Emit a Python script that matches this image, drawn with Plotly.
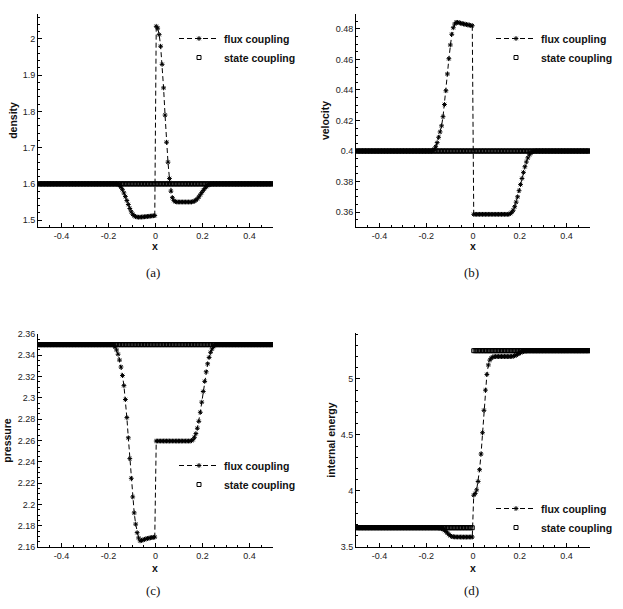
import plotly.graph_objects as go

# ---------------- data ----------------
# cell-centred mesh on [-0.5, 0.5] (160 cells)
x_cells = [round(-0.5 + 0.00625 * (k + 0.5), 6) for k in range(160)]

# density, flux coupling
rho_drop = [1.6, 1.599, 1.596, 1.591, 1.584, 1.575, 1.565, 1.554, 1.543, 1.532,
            1.523, 1.516, 1.512, 1.5095, 1.5085, 1.508]
rho_low = [1.5082, 1.5085, 1.5088, 1.5092, 1.5096, 1.51, 1.5105, 1.511, 1.5115,
           1.512, 1.5125]
rho_fan = [2.035, 2.03, 2.012, 1.98, 1.93, 1.865, 1.79, 1.715, 1.66, 1.615,
           1.58, 1.562, 1.554, 1.551]
rho_rise = [1.551, 1.5525, 1.555, 1.559, 1.564, 1.57, 1.576, 1.582, 1.5875,
            1.592, 1.5955, 1.598, 1.5993]
rho_flux = [1.6] * 53 + rho_drop + rho_low + rho_fan + [1.55] * 11 + rho_rise + [1.6] * 42
rho_state = [1.6] * 160

# velocity, flux coupling
u_rise_left = [0.4004, 0.4012, 0.4028, 0.4055, 0.409, 0.4125, 0.4165, 0.4225,
               0.4305, 0.4395, 0.4505, 0.4605, 0.4695, 0.4765, 0.4808, 0.4832,
               0.4843, 0.4843]
u_high = [0.4841, 0.4838, 0.4835, 0.4833, 0.4831, 0.4829, 0.4827, 0.4825,
          0.4823, 0.4821]
u_rise_right = [0.359, 0.3598, 0.3612, 0.3635, 0.3665, 0.37, 0.374, 0.378,
                0.382, 0.386, 0.3897, 0.3928, 0.3955, 0.3975, 0.3987, 0.3994,
                0.3998]
u_flux = [0.4] * 52 + u_rise_left + u_high + [0.3585] * 25 + u_rise_right + [0.4] * 38
u_state = [0.4] * 160

# pressure, flux coupling
p_drop = [2.35, 2.3495, 2.3478, 2.345, 2.341, 2.3355, 2.329, 2.321, 2.3115,
          2.2985, 2.2815, 2.2625, 2.243, 2.2245, 2.207, 2.192, 2.1815, 2.1735,
          2.1685, 2.1658, 2.1662]
p_low = [2.1667, 2.1672, 2.1676, 2.168, 2.1683, 2.1686, 2.1689, 2.1691, 2.1693]
p_rise = [2.2598, 2.2608, 2.263, 2.2665, 2.2715, 2.278, 2.2865, 2.296, 2.306,
          2.3155, 2.3245, 2.332, 2.338, 2.3428, 2.346, 2.3483, 2.3495]
p_flux = [2.35] * 50 + p_drop + p_low + [2.2595] * 24 + p_rise + [2.35] * 39
p_state = [2.35] * 160

# internal energy, flux coupling
e_drop = [3.672, 3.671, 3.669, 3.665, 3.659, 3.65, 3.638, 3.625, 3.612, 3.601,
          3.594, 3.591]
e_low = [3.59, 3.5895, 3.589, 3.589, 3.5888, 3.5886, 3.5885, 3.5885, 3.5885,
         3.5886, 3.5888, 3.589, 3.589]
e_fan = [3.962, 3.978, 4.01, 4.085, 4.19, 4.33, 4.52, 4.72, 4.9, 5.04, 5.125,
         5.168, 5.186, 5.195, 5.199]
e_rise = [5.201, 5.203, 5.207, 5.213, 5.22, 5.228, 5.235, 5.241, 5.246, 5.249,
          5.2505]
e_flux = [3.672] * 55 + e_drop + e_low + e_fan + [5.2] * 11 + e_rise + [5.252] * 43
e_state = [3.672] * 80 + [5.252] * 80

for s in (rho_flux, u_flux, p_flux, e_flux, e_state):
    assert len(s) == 160, len(s)

# tick labels
x_tickvals = [-0.4, -0.2, 0, 0.2, 0.4]
x_ticktext = ["-0.4", "-0.2", "0", "0.2", "0.4"]
rho_ticks = [1.5, 1.6, 1.7, 1.8, 1.9, 2.0]
rho_ticktext = ["1.5", "1.6", "1.7", "1.8", "1.9", "2"]
u_ticks = [0.36, 0.38, 0.40, 0.42, 0.44, 0.46, 0.48]
u_ticktext = ["0.36", "0.38", "0.4", "0.42", "0.44", "0.46", "0.48"]
p_ticks = [2.16, 2.18, 2.20, 2.22, 2.24, 2.26, 2.28, 2.30, 2.32, 2.34, 2.36]
p_ticktext = ["2.16", "2.18", "2.2", "2.22", "2.24", "2.26", "2.28", "2.3", "2.32", "2.34", "2.36"]
e_ticks = [3.5, 4.0, 4.5, 5.0]
e_ticktext = ["3.5", "4", "4.5", "5"]

panels = [
    dict(y_flux=rho_flux, y_state=rho_state, title="density",
         ticks=rho_ticks, ticktext=rho_ticktext, rng=[1.481, 2.069], minor=0.02),
    dict(y_flux=u_flux, y_state=u_state, title="velocity",
         ticks=u_ticks, ticktext=u_ticktext, rng=[0.3502, 0.4898], minor=0.005),
    dict(y_flux=p_flux, y_state=p_state, title="pressure",
         ticks=p_ticks, ticktext=p_ticktext, rng=[2.16, 2.36], minor=0.005),
    dict(y_flux=e_flux, y_state=e_state, title="internal energy",
         ticks=e_ticks, ticktext=e_ticktext, rng=[3.5, 5.41], minor=0.1),
]

# ---------------- layout ----------------
W, H = 623, 609
def px_x(v):
    return v / W
def px_y(v):
    return 1 - v / H

x_domains = [[px_x(38), px_x(273)], [px_x(356), px_x(590)],
             [px_x(38), px_x(273)], [px_x(356), px_x(590)]]
y_domains = [[px_y(227), px_y(14)], [px_y(227), px_y(14)],
             [px_y(547), px_y(334)], [px_y(547), px_y(333)]]
legend_pos = [(px_x(174), px_y(24)), (px_x(491), px_y(24)),
              (px_x(174), px_y(451)), (px_x(491), px_y(494))]
xtitle_pos = [(155, 246), (473, 246), (155, 568), (473, 568)]

FONT = "Liberation Sans, Arial, sans-serif"
fig = go.Figure()
layout = dict(width=W, height=H, margin=dict(l=0, r=0, t=0, b=0, autoexpand=False),
              paper_bgcolor="white", plot_bgcolor="white", showlegend=True,
              font=dict(family=FONT, size=9, color="#222"))

annotations = []
for k, p in enumerate(panels):
    n = "" if k == 0 else str(k + 1)
    leg = "legend" if k == 0 else "legend" + str(k + 1)
    fig.add_trace(go.Scatter(
        x=x_cells, y=p["y_flux"], mode="lines+markers", name="flux coupling",
        line=dict(color="black", width=1, dash="5px,3px"),
        marker=dict(symbol="asterisk-open", size=4, color="black",
                    line=dict(color="black", width=1)),
        xaxis="x" + n, yaxis="y" + n, legend=leg))
    fig.add_trace(go.Scatter(
        x=x_cells, y=p["y_state"], mode="markers", name="state coupling",
        marker=dict(symbol="square-open", size=4, color="black",
                    line=dict(color="black", width=1)),
        xaxis="x" + n, yaxis="y" + n, legend=leg))

    common = dict(showline=True, linecolor="black", linewidth=1, mirror=False,
                  showgrid=False, zeroline=False, ticks="inside", ticklen=4,
                  tickcolor="black", tickwidth=1, automargin=False,
                  tickfont=dict(family=FONT, size=9, color="#222"))
    layout["xaxis" + n] = dict(
        domain=x_domains[k], range=[-0.5, 0.5], anchor="y" + n,
        tickmode="array", tickvals=x_tickvals, ticktext=x_ticktext,
        minor=dict(tick0=0, dtick=0.05, ticks="inside", ticklen=2,
                   tickcolor="black", showgrid=False),
        **common)
    layout["yaxis" + n] = dict(
        domain=y_domains[k], range=p["rng"], anchor="x" + n,
        tickmode="array", tickvals=p["ticks"], ticktext=p["ticktext"],
        minor=dict(tick0=0, dtick=p["minor"], ticks="inside", ticklen=2,
                   tickcolor="black", showgrid=False),
        title=dict(text=p["title"], font=dict(family=FONT, size=10.5, color="#111", weight="bold"),
                   standoff=3),
        **common)
    layout[leg] = dict(x=legend_pos[k][0], y=legend_pos[k][1], xanchor="left",
                       yanchor="top", bgcolor="rgba(0,0,0,0)", itemwidth=40,
                       font=dict(family=FONT, size=10.5, color="#111", weight="bold"),
                       tracegroupgap=0)
    tx, ty = xtitle_pos[k]
    annotations.append(dict(text="x", x=px_x(tx), y=px_y(ty), xref="paper", yref="paper",
                            showarrow=False, xanchor="center", yanchor="middle",
                            font=dict(family=FONT, size=10.5, color="#111", weight="bold")))

captions = ["(a)", "(b)", "(c)", "(d)"]
cap_pos = [(153, 272), (471, 272), (153, 590), (471, 590)]
for c, (cx, cy) in zip(captions, cap_pos):
    annotations.append(dict(text=c, x=px_x(cx), y=px_y(cy), xref="paper", yref="paper",
                            showarrow=False, xanchor="center", yanchor="middle",
                            font=dict(family="Liberation Serif, serif", size=13, color="#111")))
layout["annotations"] = annotations

fig.update_layout(**layout)
fig.write_html("out.html")
